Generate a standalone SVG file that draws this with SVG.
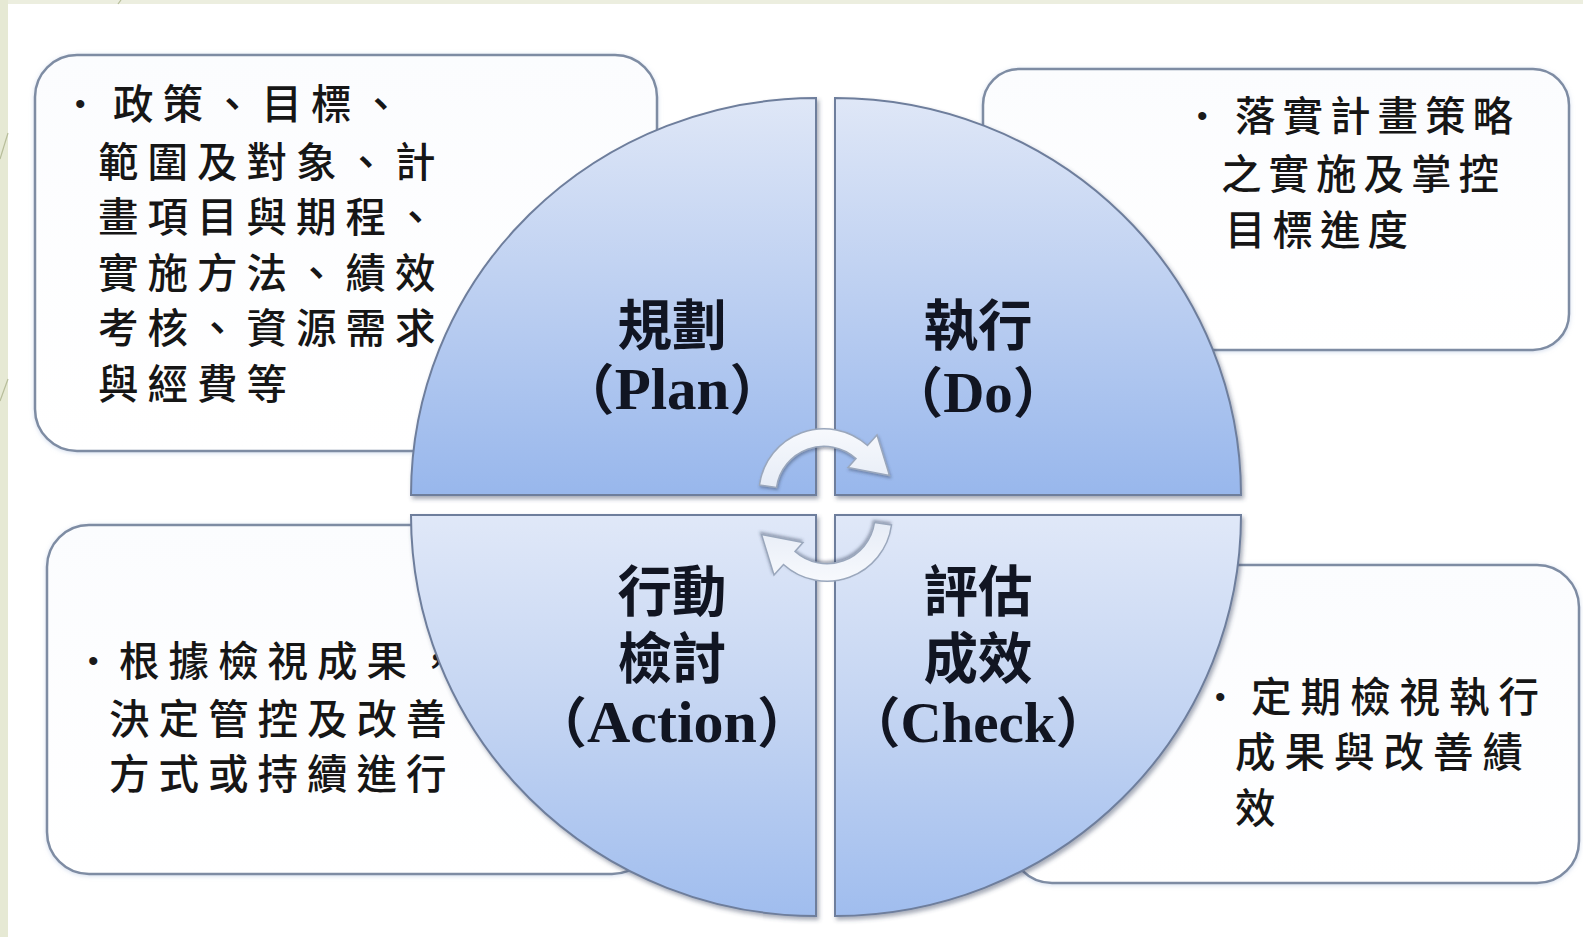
<svg xmlns="http://www.w3.org/2000/svg" width="1583" height="937" viewBox="0 0 1583 937">
<defs>
<style>
.box{fill:url(#boxg);stroke:#7e8ca3;stroke-width:2.5;filter:url(#bs)}
.quad{stroke:#6e7e9c;stroke-width:2;filter:url(#qs)}
.qt{fill:url(#qtop)}
.qb{fill:url(#qbot)}
.bt{font-family:"Noto Sans CJK TC","Noto Sans CJK SC",sans-serif;font-size:40.5px;font-weight:500;fill:#161616;letter-spacing:9px}
.bul{font-family:"Liberation Sans",sans-serif;font-size:30px;fill:#1a1a1a}
.lab{font-family:"Liberation Serif","Noto Sans CJK TC",serif;font-size:54.5px;font-weight:700;fill:#111522;text-anchor:middle}
.lat{font-size:57px}
.arr{fill:url(#arrg);stroke:#9aa7bc;stroke-width:1.5;filter:url(#as)}
.deco{stroke:#b7bd9a;stroke-width:1.2}
</style>
<linearGradient id="boxg" x1="0" y1="0" x2="0" y2="1">
<stop offset="0" stop-color="#fbfcfe"/>
<stop offset="1" stop-color="#ffffff"/>
</linearGradient>
<linearGradient id="qtop" x1="0" y1="0" x2="0" y2="1">
<stop offset="0" stop-color="#dfe7f7"/>
<stop offset="0.5" stop-color="#bccff1"/>
<stop offset="1" stop-color="#98b7ec"/>
</linearGradient>
<linearGradient id="qbot" x1="0" y1="0" x2="0" y2="1">
<stop offset="0" stop-color="#e0e8f8"/>
<stop offset="0.5" stop-color="#c3d4f2"/>
<stop offset="1" stop-color="#a0bdee"/>
</linearGradient>
<linearGradient id="arrg" x1="0" y1="0" x2="0" y2="1">
<stop offset="0" stop-color="#f7f9fd"/>
<stop offset="1" stop-color="#e6ecf6"/>
</linearGradient>
<filter id="qs" x="-5%" y="-5%" width="112%" height="112%">
<feDropShadow dx="2" dy="3" stdDeviation="2" flood-color="#3a4660" flood-opacity="0.45"/>
</filter>
<filter id="bs" x="-5%" y="-5%" width="110%" height="110%">
<feDropShadow dx="0" dy="1" stdDeviation="2" flood-color="#a9bbdb" flood-opacity="0.5"/>
</filter>
<filter id="as" x="-20%" y="-20%" width="140%" height="140%">
<feDropShadow dx="1" dy="2" stdDeviation="1.5" flood-color="#33415c" flood-opacity="0.45"/>
</filter>
<path id="carrow" d="M759.5 485 A65 65 0 0 1 867.5 445.5 L877 435 L889.5 475.5 L848 467.5 L856 458.5 A48 48 0 0 0 776.5 487.5 Z"/>
</defs>

<g id="background">
<rect x="0" y="0" width="1583" height="937" fill="#ffffff"/>
<rect x="0" y="0" width="1583" height="4" fill="#eceedf"/>
<rect x="0" y="0" width="8" height="937" fill="#e6e9d4"/>
<line class="deco" x1="0" y1="159" x2="8" y2="133"/>
<line class="deco" x1="0" y1="401" x2="8" y2="379"/>
<line class="deco" x1="118" y1="4" x2="121" y2="0"/>
</g>

<g id="box-plan">
<rect class="box" x="35" y="55" width="622" height="396" rx="42"/>
<text class="bul" x="75" y="114">•</text>
<text class="bt" x="113" y="119">政策、目標、</text>
<text class="bt" x="98" y="177">範圍及對象、計</text>
<text class="bt" x="98" y="232">畫項目與期程、</text>
<text class="bt" x="98" y="288">實施方法、績效</text>
<text class="bt" x="98" y="343">考核、資源需求</text>
<text class="bt" x="98" y="399">與經費等</text>
</g>

<g id="box-do">
<rect class="box" x="983" y="69" width="586" height="281" rx="36"/>
<text class="bul" x="1197" y="126">•</text>
<text class="bt" x="1235" y="131" style="letter-spacing:7px">落實計畫策略</text>
<text class="bt" x="1221" y="189" style="letter-spacing:7px">之實施及掌控</text>
<text class="bt" x="1225" y="245" style="letter-spacing:7px">目標進度</text>
</g>

<g id="box-action">
<rect class="box" x="47" y="525" width="607" height="349" rx="42"/>
<text class="bul" x="88" y="671">•</text>
<text class="bt" x="119" y="676">根據檢視成果，</text>
<text class="bt" x="109" y="734">決定管控及改善</text>
<text class="bt" x="109" y="789">方式或持續進行</text>
</g>

<g id="box-check">
<rect class="box" x="1010" y="565" width="569" height="318" rx="42"/>
<text class="bul" x="1215" y="707">•</text>
<text class="bt" x="1251" y="712">定期檢視執行</text>
<text class="bt" x="1235" y="767">成果與改善績</text>
<text class="bt" x="1235" y="823">效</text>
</g>

<g id="node-plan">
<path class="quad qt" d="M816 495 L411 495 A405 397 0 0 1 816 98 Z"/>
<text class="lab" x="672" y="345">規劃</text>
<text class="lab" x="672" y="409">（<tspan class="lat" style="font-size:59px">Plan</tspan>）</text>
</g>

<g id="node-do">
<path class="quad qt" d="M835 495 L835 98 A406 397 0 0 1 1241 495 Z"/>
<text class="lab" x="978" y="345">執行</text>
<text class="lab" x="978" y="412">（<tspan class="lat">Do</tspan>）</text>
</g>

<g id="node-check">
<path class="quad qb" d="M835 515 L1241 515 A406 401 0 0 1 835 916 Z"/>
<text class="lab" x="978" y="611">評估</text>
<text class="lab" x="978" y="678">成效</text>
<text class="lab" x="978" y="742">（<tspan class="lat">Check</tspan>）</text>
</g>

<g id="node-action">
<path class="quad qb" d="M816 515 L816 916 A405 401 0 0 1 411 515 Z"/>
<text class="lab" x="672" y="611">行動</text>
<text class="lab" x="672" y="678">檢討</text>
<text class="lab" x="672" y="742">（<tspan class="lat" style="font-size:60px">Action</tspan>）</text>
</g>

<g id="connectors">
<use id="arrow-top" class="arr" href="#carrow"/>
<use id="arrow-bottom" class="arr" href="#carrow" transform="rotate(180 825.5 505)"/>
</g>
</svg>
